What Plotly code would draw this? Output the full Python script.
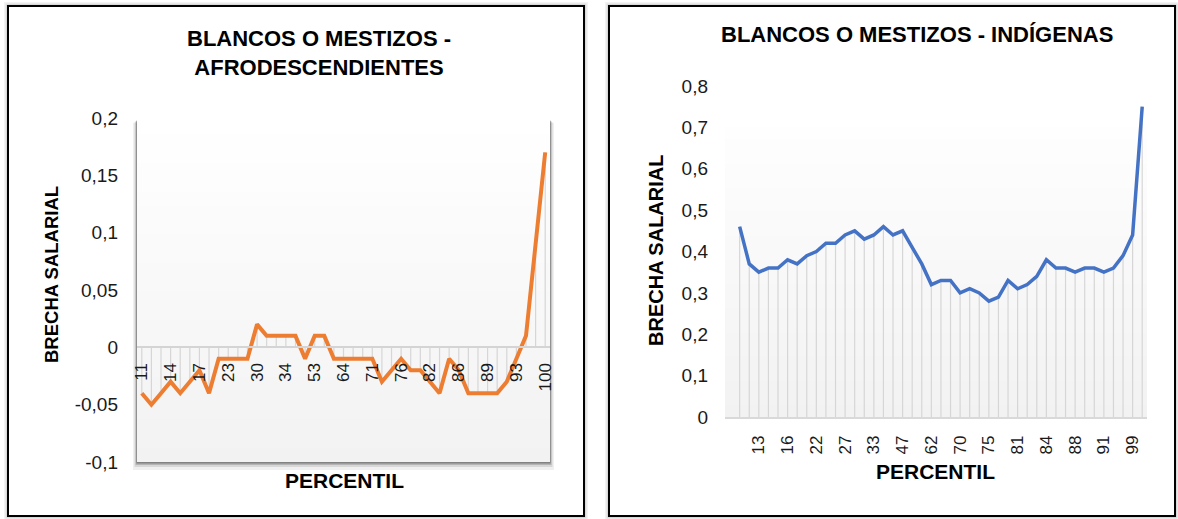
import plotly.graph_objects as go

# Percentile categories shared by both panels
percentiles = ["11", "12", "13", "14", "15", "16", "17", "20", "22", "23", "25", "27",
               "30", "31", "33", "34", "40", "47", "53", "58", "62", "64", "67", "70",
               "71", "73", "75", "76", "79", "81", "82", "83", "84", "86", "87", "88",
               "89", "90", "91", "93", "96", "99", "100"]

# Wage gap: whites/mestizos vs. afro-descendants
gap_afro = [-0.04, -0.05, -0.04, -0.03, -0.04, -0.03, -0.02, -0.04, -0.01, -0.01, -0.01, -0.01,
            0.02, 0.01, 0.01, 0.01, 0.01, -0.01, 0.01, 0.01, -0.01, -0.01, -0.01, -0.01,
            -0.01, -0.03, -0.02, -0.01, -0.02, -0.02, -0.03, -0.04, -0.01, -0.02, -0.04, -0.04,
            -0.04, -0.04, -0.03, -0.01, 0.01, 0.09, 0.17]

# Wage gap: whites/mestizos vs. indigenous
gap_indig = [0.46, 0.37, 0.35, 0.36, 0.36, 0.38, 0.37, 0.39, 0.40, 0.42, 0.42, 0.44,
             0.45, 0.43, 0.44, 0.46, 0.44, 0.45, 0.41, 0.37, 0.32, 0.33, 0.33, 0.30,
             0.31, 0.30, 0.28, 0.29, 0.33, 0.31, 0.32, 0.34, 0.38, 0.36, 0.36, 0.35,
             0.36, 0.36, 0.35, 0.36, 0.39, 0.44, 0.75]

left_yticks = [-0.1, -0.05, 0, 0.05, 0.1, 0.15, 0.2]
left_yticktext = ["-0,1", "-0,05", "0", "0,05", "0,1", "0,15", "0,2"]
right_yticks = [0, 0.1, 0.2, 0.3, 0.4, 0.5, 0.6, 0.7, 0.8]
right_yticktext = ["0", "0,1", "0,2", "0,3", "0,4", "0,5", "0,6", "0,7", "0,8"]

left_xlabels = percentiles[0::3]
right_xlabels = percentiles[2::3]

title_left = "BLANCOS O MESTIZOS -<br>AFRODESCENDIENTES"
title_right = "BLANCOS O MESTIZOS - INDÍGENAS"
ytitle = "BRECHA SALARIAL"
xtitle = "PERCENTIL"

W, H = 1178, 519
FONT = "Liberation Sans, Arial, sans-serif"


def fx(p):
    return p / W


def fy(p):
    return 1 - p / H


def drop_lines(values):
    xs, ys = [], []
    for c, v in zip(percentiles, values):
        xs += [c, c, None]
        ys += [0, v, None]
    return xs, ys


fig = go.Figure()

# drop lines + series, left panel
dx, dy = drop_lines(gap_afro)
fig.add_trace(go.Scatter(x=dx, y=dy, mode="lines", line=dict(color="#d6d6d6", width=1.2),
                         hoverinfo="skip", showlegend=False, xaxis="x", yaxis="y"))
fig.add_trace(go.Scatter(x=percentiles, y=gap_afro, mode="lines",
                         line=dict(color="#ED7D31", width=4), showlegend=False,
                         xaxis="x", yaxis="y"))

# drop lines + series, right panel
dx2, dy2 = drop_lines(gap_indig)
fig.add_trace(go.Scatter(x=dx2, y=dy2, mode="lines", line=dict(color="#d6d6d6", width=1.2),
                         hoverinfo="skip", showlegend=False, xaxis="x2", yaxis="y2"))
fig.add_trace(go.Scatter(x=percentiles, y=gap_indig, mode="lines",
                         line=dict(color="#4472C4", width=3.5), showlegend=False,
                         xaxis="x2", yaxis="y2"))

shapes = []


def rect(x0, y0, x1, y1, fill, line=None):
    shapes.append(dict(type="rect", xref="paper", yref="paper", layer="below",
                       x0=fx(x0), x1=fx(x1), y0=fy(y1), y1=fy(y0),
                       line=line or dict(width=0), fillcolor=fill))


def panel(x0, y0, x1, y1):
    # soft outer shadow then framed white panel
    for pad, a in [(4, 0.05), (2.5, 0.08), (1.2, 0.12)]:
        rect(x0 - pad, y0 - pad, x1 + pad, y1 + pad, f"rgba(0,0,0,{a})")
    rect(x0, y0, x1, y1, "white", dict(color="black", width=2))


def gradient(x0, y0, x1, y1, top=(255, 255, 255), bottom=(242, 242, 242), n=24):
    # bands drawn top-down, each running to the bottom edge so no seams show
    h = (y1 - y0) / n
    for i in range(n):
        t = (i + 0.5) / n
        c = tuple(round(top[k] + (bottom[k] - top[k]) * t) for k in range(3))
        rect(x0, y0 + h * i, x1, y1, f"rgb{c}")


panel(8, 6, 584, 516)
panel(609, 6, 1175, 516)

# left plot area shadow and gradient fill
for (a, b, c, d, al) in [(133, 123, 554, 470, 0.06), (134.5, 122, 552.5, 467, 0.10),
                         (135.5, 121, 551.5, 465, 0.16), (136.3, 120.5, 550.7, 463.5, 0.28)]:
    rect(a, b, c, d, f"rgba(0,0,0,{al})")
gradient(137, 120, 550, 462)

# right plot area gradient fill
gradient(725, 127, 1147, 417, top=(254, 254, 254))

fig.update_layout(shapes=shapes)

L_Y0, L_Y1 = fy(462), fy(118)
zero_pos = L_Y0 + (0 - (-0.1)) / 0.3 * (L_Y1 - L_Y0)

xtickfont = dict(family=FONT, size=17, color="#1a1a1a")
ytickfont = dict(family=FONT, size=19, color="#1a1a1a")

fig.update_layout(
    width=W, height=H, margin=dict(l=0, r=0, t=0, b=0, pad=0, autoexpand=False),
    paper_bgcolor="white", plot_bgcolor="rgba(0,0,0,0)",
    showlegend=False,
    xaxis=dict(domain=[fx(137), fx(550)], type="category", range=[-0.5, 42.5],
               anchor="free", position=zero_pos, automargin=False,
               tickmode="array", tickvals=left_xlabels, ticktext=left_xlabels,
               tickangle=-90, tickfont=xtickfont, ticks="", ticklabelstandoff=8,
               showgrid=False, zeroline=False, showline=True, linecolor="#d4d4d4", linewidth=2),
    yaxis=dict(domain=[L_Y0, L_Y1], range=[-0.1, 0.2], anchor="x", automargin=False,
               tickmode="array", tickvals=left_yticks, ticktext=left_yticktext,
               tickfont=ytickfont, ticks="",
               ticklabelstandoff=18, showgrid=False, zeroline=False, showline=False),
    xaxis2=dict(domain=[fx(725), fx(1147)], type="category", range=[-1.53, 42.5],
                anchor="y2", automargin=False,
                tickmode="array", tickvals=right_xlabels, ticktext=right_xlabels,
                tickangle=-90, tickfont=xtickfont, ticks="", ticklabelstandoff=10,
                showgrid=False, zeroline=False, showline=True, linecolor="#d9d9d9", linewidth=1.5),
    yaxis2=dict(domain=[fy(417), fy(86)], range=[0, 0.8], anchor="x2", automargin=False,
                tickmode="array", tickvals=right_yticks, ticktext=right_yticktext,
                tickfont=ytickfont, ticks="",
                ticklabelstandoff=16, showgrid=False, zeroline=False, showline=False),
)

bold = dict(family=FONT, size=22, color="black")
fig.update_layout(annotations=[
    dict(text=f"<b>{title_left}</b>", x=fx(319), y=fy(53), xref="paper", yref="paper",
         showarrow=False, font=bold, xanchor="center", yanchor="middle"),
    dict(text=f"<b>{title_right}</b>", x=fx(917), y=fy(35), xref="paper", yref="paper",
         showarrow=False, font=bold, xanchor="center", yanchor="middle"),
    dict(text=f"<b>{ytitle}</b>", x=fx(51), y=fy(275), xref="paper", yref="paper",
         showarrow=False, font=dict(family=FONT, size=18.5, color="black"),
         textangle=-90, xanchor="center", yanchor="middle"),
    dict(text=f"<b>{ytitle}</b>", x=fx(656), y=fy(251), xref="paper", yref="paper",
         showarrow=False, font=dict(family=FONT, size=20, color="black"),
         textangle=-90, xanchor="center", yanchor="middle"),
    dict(text=f"<b>{xtitle}</b>", x=fx(344), y=fy(480), xref="paper", yref="paper",
         showarrow=False, font=dict(family=FONT, size=21, color="black"),
         xanchor="center", yanchor="middle"),
    dict(text=f"<b>{xtitle}</b>", x=fx(936), y=fy(471), xref="paper", yref="paper",
         showarrow=False, font=dict(family=FONT, size=21, color="black"),
         xanchor="center", yanchor="middle"),
])

fig.write_html("out.html")
